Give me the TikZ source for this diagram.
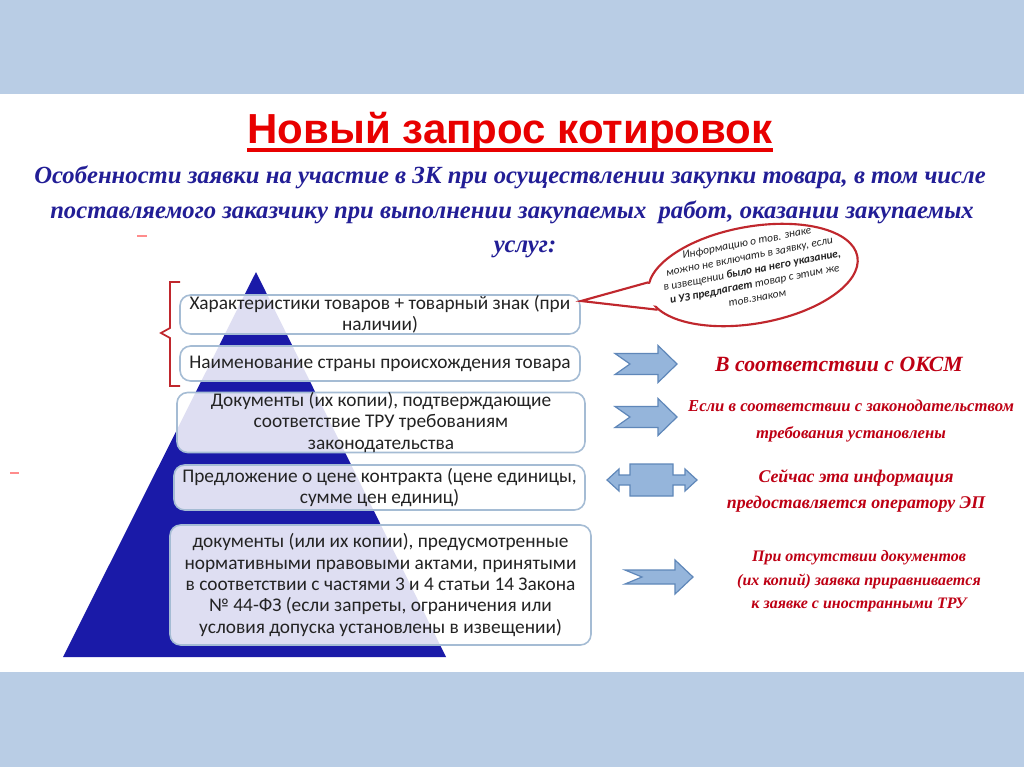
\documentclass[tikz,border=0pt]{standalone}
\usepackage{fontspec}
\setmainfont{Carlito}
\newfontfamily\ttlfont{Liberation Sans}
\newfontfamily\scfont{Liberation Serif}
\usetikzlibrary{shapes.geometric,calc}
\definecolor{band}{RGB}{185,205,229}
\definecolor{pyr}{RGB}{26,26,168}
\definecolor{boxline}{RGB}{165,188,212}
\definecolor{ttlred}{RGB}{232,0,0}
\definecolor{navy}{RGB}{34,30,150}
\definecolor{dred}{RGB}{190,0,20}
\definecolor{bubred}{RGB}{192,39,45}
\definecolor{arrfill}{RGB}{149,181,219}
\definecolor{arrline}{RGB}{95,135,185}
\definecolor{txt}{RGB}{35,35,35}
\begin{document}
\begin{tikzpicture}[x=0.75pt,y=-0.75pt,
  lvl/.style={draw=boxline, line width=1.2pt, rounded corners=8pt, fill=white, fill opacity=0.86, text opacity=1, text=txt, align=center, inner sep=0pt, font=\fontsize{14.5}{16}\selectfont},
  sub/.style={anchor=base, text=navy, font=\scfont\bfseries\itshape\fontsize{18.5}{22}\selectfont},
  note/.style={anchor=base, text=dred, font=\scfont\bfseries\itshape},
  arr/.style={fill=arrfill, draw=arrline, line width=0.9pt, line join=miter},
  notchA/.pic={\draw[arr] (0,-10.5) -- (43,-10.5) -- (43,-18.5) -- (62,0) -- (43,18.5) -- (43,10.5) -- (0,10.5) -- (15,0) -- cycle;},
  notchB/.pic={\draw[arr] (0,-7) -- (50,-7) -- (50,-17) -- (68,0) -- (50,17) -- (50,7) -- (0,7) -- (17,0) -- cycle;}
]
\useasboundingbox (0,0) rectangle (1024,767);
\fill[white] (0,0) rectangle (1024,767);
\fill[band] (0,0) rectangle (1024,94);
\fill[band] (0,672) rectangle (1024,767);

% title
\node[anchor=base, text=ttlred, font=\ttlfont\bfseries\fontsize{31.5}{36}\selectfont, inner sep=0pt] (title) at (510,143) {Новый запрос котировок};
\draw[ttlred, line width=3pt] ($(title.base west)+(0,7)$) -- ($(title.base east)+(0,7)$);

% subtitle
\node[sub] (s1) at (510,183) {Особенности заявки на участие в ЗК при осуществлении закупки товара, в том числе};
\node[sub] (s2) at (512,218) {поставляемого заказчику при выполнении закупаемых \ работ, оказании закупаемых};
\node[sub] (s3) at (525,252) {услуг:};

% small marks
\draw[red!45, line width=1.2pt] (137,236) -- (147,236);
\draw[red!45, line width=1.2pt] (10,473) -- (19,473);

% pyramid
\fill[pyr] (256,272) -- (446,657) -- (63,657) -- cycle;

% boxes
\node[lvl, minimum width=400*0.75pt, minimum height=39*0.75pt] (b1) at (380,314.5) {Характеристики товаров + товарный знак (при\\наличии)};
\node[lvl, minimum width=400*0.75pt, minimum height=35*0.75pt] (b2) at (380,363.5) {Наименование страны происхождения товара};
\node[lvl, minimum width=408*0.75pt, minimum height=59*0.75pt] (b3) at (381,422.5) {Документы (их копии), подтверждающие\\соответствие ТРУ требованиям\\законодательства};
\node[lvl, minimum width=411*0.75pt, minimum height=45*0.75pt] (b4) at (379.5,487.5) {Предложение о цене контракта (цене единицы,\\сумме цен единиц)};
\node[lvl, minimum width=421*0.75pt, minimum height=120*0.75pt] (b5) at (380.5,585) {документы (или их копии), предусмотренные\\нормативными правовыми актами, принятыми\\в соответствии с частями 3 и 4 статьи 14 Закона\\№ 44-ФЗ (если запреты, ограничения или\\условия допуска установлены в извещении)};

% bracket
\draw[bubred, line width=1.3pt, line join=miter] (180,282) -- (170,282) -- (170,328) -- (161,333) -- (170,338) -- (170,386) -- (180,386);

% speech bubble
\node[ellipse, draw=bubred, line width=1.6pt, fill=white, minimum width=212*0.75pt, minimum height=97*0.75pt, rotate=10] (bub) at (753,275) {};
\coordinate (tip) at (581,301);
\fill[white] (tip) -- ($(bub.center)!0.9!(bub.174)$) -- ($(bub.center)!0.9!(bub.190)$) -- cycle;
\draw[bubred, line width=1.6pt, line join=miter] (bub.174) -- (tip) -- (bub.190);
\node[rotate=11, align=center, text=txt, font=\itshape\fontsize{8.5}{10.5}\selectfont] (bt) at (752,270) {Информацию о тов. знаке\\можно не включать в заявку, если\\в извещении \textbf{было на него указание,}\\\textbf{и УЗ предлагает} товар с этим же\\тов.знаком};

% arrows
\pic at (615,364) {notchA};
\pic at (615,417) {notchA};
\draw[arr] (630,464) -- (673,464) -- (673,475) -- (685,475) -- (685,469) -- (697,480) -- (685,491) -- (685,485) -- (673,485) -- (673,496) -- (630,496) -- (630,485) -- (619,485) -- (619,491) -- (607,480) -- (619,469) -- (619,475) -- (630,475) -- cycle;
\pic at (625,577) {notchB};

% notes
\node[note, font=\scfont\bfseries\itshape\fontsize{16.3}{20}\selectfont] (n1) at (839,371) {В соответствии с ОКСМ};
\node[note, font=\scfont\bfseries\itshape\fontsize{12.5}{15}\selectfont] (n2a) at (851,411) {Если в соответствии с законодательством};
\node[note, font=\scfont\bfseries\itshape\fontsize{12.5}{15}\selectfont] (n2b) at (851,438) {требования установлены};
\node[note, font=\scfont\bfseries\itshape\fontsize{13.4}{17}\selectfont] (n3a) at (856,482) {Сейчас эта информация};
\node[note, font=\scfont\bfseries\itshape\fontsize{13.4}{17}\selectfont] (n3b) at (856,508) {предоставляется оператору ЭП};
\node[note, font=\scfont\bfseries\itshape\fontsize{12}{16}\selectfont] (n4a) at (859,561) {При отсутствии документов};
\node[note, font=\scfont\bfseries\itshape\fontsize{12}{16}\selectfont] (n4b) at (859,585) {(их копий) заявка приравнивается};
\node[note, font=\scfont\bfseries\itshape\fontsize{12}{16}\selectfont] (n4c) at (859,608) {к заявке с иностранными ТРУ};
\end{tikzpicture}
\end{document}
